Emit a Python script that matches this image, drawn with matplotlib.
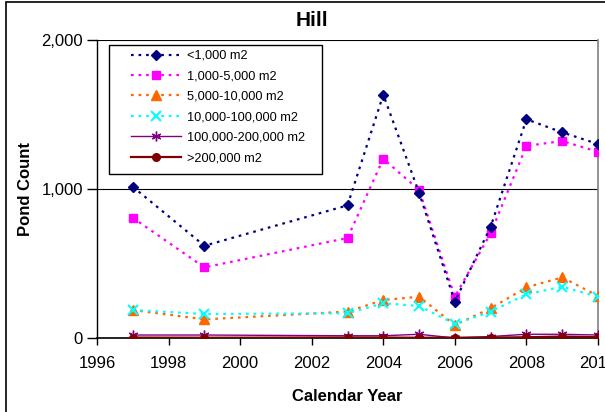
import matplotlib
matplotlib.use("Agg")
import matplotlib.pyplot as plt
from matplotlib.patches import Rectangle

plt.rcParams['font.family'] = ['Liberation Sans', 'DejaVu Sans']

years = [1997, 1999, 2003, 2004, 2005, 2006, 2007, 2008, 2009, 2010]
s_lt1k = [1015, 619, 890, 1633, 975, 244, 747, 1468, 1380, 1302]
s_1k_5k = [807, 474, 671, 1203, 993, 277, 703, 1289, 1322, 1250]
s_5k_10k = [188, 125, 177, 255, 277, 87, 199, 340, 407, 282]
s_10k_100k = [188, 161, 166, 233, 215, 94, 177, 293, 344, 277]
s_100k_200k = [20, 20, 15, 15, 25, 0, 10, 25, 25, 20]
s_gt200k = [3, 2, 3, 3, 2, 2, 3, 5, 10, 5]

labels = ['<1,000 m2', '1,000-5,000 m2', '5,000-10,000 m2',
          '10,000-100,000 m2', '100,000-200,000 m2', '>200,000 m2']
xticks = [1996, 1998, 2000, 2002, 2004, 2006, 2008, 2010]
yticks = [0, 1000, 2000]
ytick_labels = ['0', '1,000', '2,000']

W, H = 605, 412
AX_L, AX_R, AX_T, AX_B = 97, 598, 40, 338
fig = plt.figure(figsize=(W/100, H/100), dpi=100)
ax = fig.add_axes([AX_L/W, (H-AX_B)/H, (AX_R-AX_L)/W, (AX_B-AX_T)/H])

def px2ax(x, y):
    return ((x - AX_L) / (AX_R - AX_L), (AX_B - y) / (AX_B - AX_T))

ax.plot(years, s_lt1k, color='#000080', linestyle=(0, (1.2, 2.2)), lw=1.6,
        marker='D', ms=5.5, label=labels[0], zorder=6)
ax.plot(years, s_1k_5k, color='#FF00FF', linestyle=(0, (1.2, 2.2)), lw=1.6,
        marker='s', ms=6, label=labels[1], zorder=5)
ax.plot(years, s_5k_10k, color='#FF6600', linestyle=(0, (1.2, 2.2)), lw=1.6,
        marker='^', ms=6.5, label=labels[2], zorder=4)
ax.plot(years, s_10k_100k, color='#00FFFF', linestyle=(0, (1.2, 2.2)), lw=1.6,
        marker='x', ms=6.5, mew=1.5, label=labels[3], zorder=4)
ax.plot(years, s_100k_200k, color='#800080', linestyle='-', lw=1.0,
        marker=(6, 2, 0), ms=7, mew=1.0, label=labels[4], zorder=3)
ax.plot(years, s_gt200k, color='#800000', linestyle='-', lw=1.6,
        marker='o', ms=5.5, label=labels[5], zorder=3)

ax.set_xlim(1996, 2010)
ax.set_ylim(0, 2000)
ax.set_xticks(xticks)
ax.set_yticks(yticks)
ax.set_yticklabels(ytick_labels)
ax.tick_params(axis='both', labelsize=12, width=1, color='black')
ax.tick_params(axis='y', direction='out', length=7.5, pad=2.5)
ax.tick_params(axis='x', direction='out', length=5, pad=8)
ax.grid(axis='y', color='black', lw=0.8)
ax.set_axisbelow(True)
ax.spines['top'].set_visible(False)
ax.spines['bottom'].set_color('black')
ax.spines['left'].set_color('black')
ax.spines['right'].set_color('#808080')
ax.spines['bottom'].set_linewidth(1.2)
ax.spines['left'].set_linewidth(1.0)
ax.spines['right'].set_linewidth(1.2)

ax.set_xlabel('Calendar Year', fontsize=12, fontweight='bold', labelpad=13)
ax.set_ylabel('Pond Count', fontsize=12, fontweight='bold', labelpad=6)
fig.text(312/W, 1 - 20/H, 'Hill', ha='center', va='center',
         fontsize=15, fontweight='bold')

# legend frame (Excel-style box)
fx0, fy0 = px2ax(109, 174)
fx1, fy1 = px2ax(322, 45)
ax.add_patch(Rectangle((fx0, fy0), fx1 - fx0, fy1 - fy0, transform=ax.transAxes,
                       facecolor='white', edgecolor='black', lw=1.0, zorder=9,
                       clip_on=False))
leg = ax.legend(loc='upper left', bbox_to_anchor=px2ax(131, 50),
                fontsize=9.2, frameon=False,
                handlelength=3.9, labelspacing=0.66, borderpad=0,
                handletextpad=0.45, borderaxespad=0)
leg.set_zorder(10)

fig.patches.append(Rectangle((6/W, -0.05), 1.2, 1 - 1.5/H + 0.05,
                             transform=fig.transFigure, fill=False,
                             edgecolor='black', lw=1.2))

fig.savefig('out.png', dpi=100)
